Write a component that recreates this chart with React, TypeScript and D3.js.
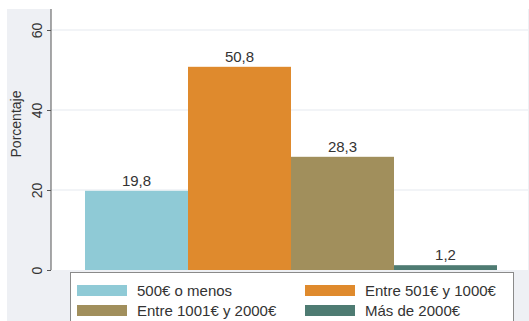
import React, { useEffect, useRef } from 'react';
import * as d3 from 'd3';

const categories = ['500€ o menos', 'Entre 501€ y 1000€', 'Entre 1001€ y 2000€', 'Más de 2000€'];
const values = [19.8, 50.8, 28.3, 1.2];
const colors = ['#8fcad6', '#df8a2d', '#a18f5c', '#4e7b72'];
const yTicks = [0, 20, 40, 60];

export default function App() {
  const svgRef = useRef<SVGSVGElement>(null);
  const width = 529;
  const height = 321;

  useEffect(() => {
    if (!svgRef.current) return;
    const svg = d3.select(svgRef.current);
    svg.selectAll('*').remove();

    const font = '"Liberation Sans", Arial, sans-serif';
    const plot = { left: 51, right: 528, top: 9, bottom: 270 };

    // outer background
    svg.append('rect')
      .attr('x', 7).attr('y', 9)
      .attr('width', width - 7).attr('height', height - 9)
      .attr('fill', '#eef0f4');

    // plot region
    svg.append('rect')
      .attr('x', plot.left).attr('y', plot.top)
      .attr('width', plot.right - plot.left).attr('height', plot.bottom - plot.top)
      .attr('fill', '#ffffff');

    const y = d3.scaleLinear().domain([0, 60]).range([270, 30]);
    const x = d3.scaleBand<string>()
      .domain(categories)
      .range([85, 497])
      .padding(0);

    // gridlines
    svg.append('g')
      .selectAll('line')
      .data(yTicks.filter(t => t > 0))
      .enter()
      .append('line')
      .attr('x1', plot.left).attr('x2', plot.right)
      .attr('y1', d => y(d)).attr('y2', d => y(d))
      .attr('stroke', '#e6eaef')
      .attr('stroke-width', 1.2);

    // bars
    svg.append('g')
      .selectAll('rect')
      .data(values)
      .enter()
      .append('rect')
      .attr('x', (d, i) => x(categories[i]) || 0)
      .attr('y', d => y(d))
      .attr('width', x.bandwidth())
      .attr('height', d => y(0) - y(d))
      .attr('fill', (d, i) => colors[i]);

    // value labels
    svg.append('g')
      .selectAll('text')
      .data(values)
      .enter()
      .append('text')
      .attr('x', (d, i) => (x(categories[i]) || 0) + x.bandwidth() / 2)
      .attr('y', d => y(d) - 5)
      .attr('text-anchor', 'middle')
      .attr('font-family', font)
      .attr('font-size', 15)
      .attr('fill', '#333')
      .text(d => d3.format('.1f')(d).replace('.', ','));

    // y axis
    const axis = svg.append('g')
      .attr('transform', `translate(${plot.left},0)`)
      .call(d3.axisLeft(y).tickValues(yTicks).tickSize(4).tickPadding(7).tickFormat(d3.format('d')));
    axis.select('.domain')
      .attr('d', `M0,${plot.top}V${plot.bottom}`)
      .attr('stroke', '#555');
    axis.selectAll('.tick line').attr('stroke', '#555');
    axis.selectAll('.tick text')
      .attr('font-family', font)
      .attr('font-size', 14)
      .attr('fill', '#333')
      .attr('transform', function () {
        const t = d3.select(this);
        return `rotate(-90, ${t.attr('x')}, 0)`;
      })
      .attr('text-anchor', 'middle')
      .attr('dy', '0')
      .attr('x', 0)
      .attr('y', 0)
      .attr('transform', 'translate(-9,0) rotate(-90)');

    svg.append('text')
      .attr('transform', 'translate(21,124) rotate(-90)')
      .attr('text-anchor', 'middle')
      .attr('font-family', font)
      .attr('font-size', 14)
      .attr('fill', '#333')
      .text('Porcentaje');

    // legend
    const lg = svg.append('g');
    lg.append('rect')
      .attr('x', 70.5).attr('y', 272.5)
      .attr('width', 443).attr('height', 60)
      .attr('fill', '#fff')
      .attr('stroke', '#8a8a8a');

    const cols = [77, 305];
    const rows = [285, 305];
    categories.forEach((c, i) => {
      const cx = cols[i % 2];
      const ry = rows[Math.floor(i / 2)];
      lg.append('rect')
        .attr('x', cx).attr('y', ry)
        .attr('width', 50).attr('height', 11)
        .attr('fill', colors[i]);
      lg.append('text')
        .attr('x', cx + 60).attr('y', ry + 11)
        .attr('font-family', font)
        .attr('font-size', 15)
        .attr('fill', '#333')
        .text(c);
    });
  }, []);

  return (
    <svg ref={svgRef} width={width} height={height}
      style={{ position: 'absolute', left: 0, top: 0, background: '#fff' }} />
  );
}
